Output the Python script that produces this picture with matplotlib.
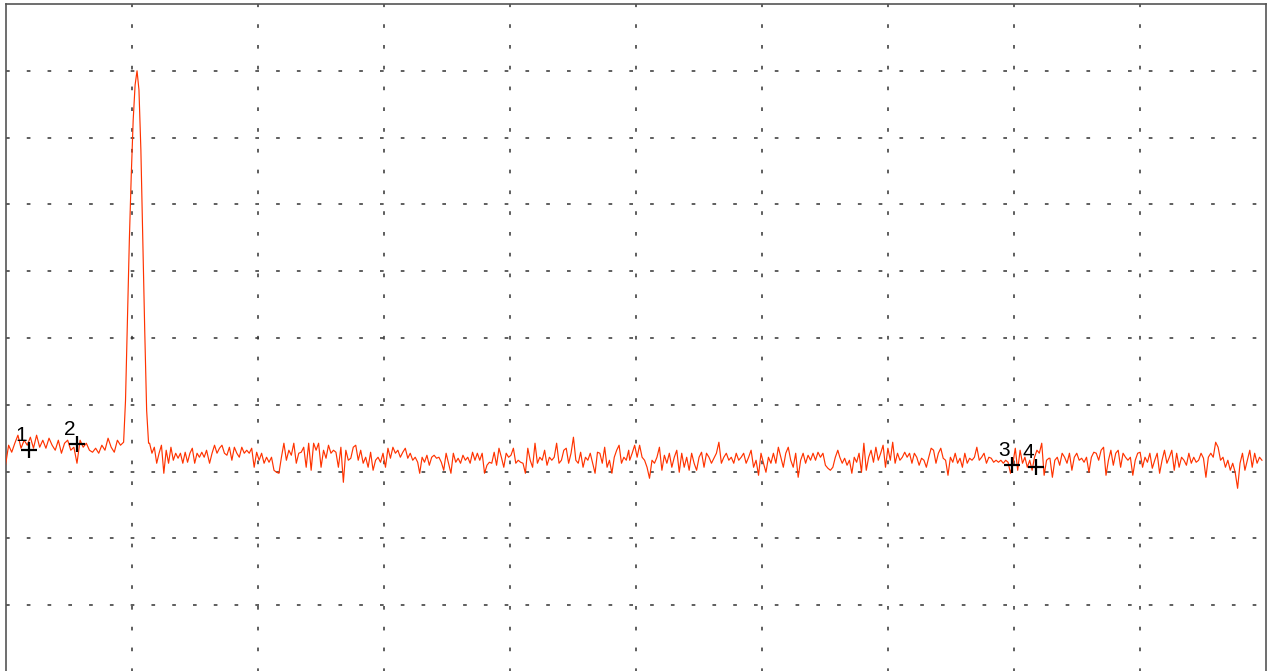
import numpy as np
import matplotlib
matplotlib.use("Agg")
import matplotlib.pyplot as plt

# scope screen: 100 ns/div, 20 mV/div, 10 x 10 divisions
time_div = 100.0
volt_div = 20.0

# trace, in mV, piece by piece (start ns, end ns, samples)
seg_pre = [-38.1, -32.1, -34.2, -31.5, -29.1, -33.0, -30.6, -32.1, -29.7, -33.0,
           -29.1, -32.7, -30.6, -33.0, -30.0, -32.1, -33.6, -30.6, -34.5, -31.5,
           -30.6, -33.6, -32.7, -37.5, -30.6, -32.7, -31.5, -33.6, -34.2, -33.0,
           -34.5, -32.1, -33.6, -30.0, -32.7, -34.2, -30.6, -32.1, -31.2]
seg_pulse = [-18.8, 5.3, 29.3, 48.8, 65.3, 75.8, 80.0, 74.3, 56.3, 29.3, 2.3, -21.7, -31.5]
seg_c = [-31.5, -34.5, -32.7, -37.5, -34.5, -32.1, -40.5, -33.6, -37.5, -32.7,
         -36.6, -34.5, -36.0, -34.5, -37.5, -34.2, -37.2, -34.5, -33.0, -37.5,
         -34.5, -35.7, -34.2, -35.7, -33.6]
seg_d = [-37.5, -34.5, -32.1, -34.5, -33.0, -32.1, -34.5, -35.1, -32.7, -36.6,
         -32.7, -34.5, -35.7, -32.7, -34.5, -33.6, -34.5, -33.0, -38.7, -34.2,
         -36.6, -34.5, -37.5, -35.7, -37.2, -35.7, -39.6, -40.2, -40.5, -35.7,
         -31.5, -36.6, -33.6, -35.1, -31.5, -37.5, -34.5, -34.2, -32.7, -38.7,
         -31.5, -39.6, -31.5, -33.6, -31.5, -38.7, -33.6, -36.0, -32.1, -34.5,
         -33.6, -34.2, -38.7, -32.7, -43.2, -33.6, -36.6, -36.0, -32.7, -32.1,
         -36.6, -33.6, -37.5, -35.7, -38.7, -34.2, -39.6, -36.6, -35.7, -37.2,
         -34.5, -38.7, -33.0, -36.0, -32.7, -34.5, -33.6, -35.7, -34.2, -33.0,
         -36.0, -34.5, -36.6, -35.7, -37.2]
seg_e = [-40.5, -35.7, -37.2, -35.1, -38.1, -35.7, -35.1, -36.0, -35.7, -37.2,
         -39.6, -34.5, -37.5, -40.5, -34.5, -37.2, -36.0, -37.5, -35.1, -36.6,
         -35.7, -37.5, -34.2, -36.6, -34.5, -36.6, -34.5, -40.5, -38.1, -37.2,
         -37.5, -34.2, -38.1, -33.0, -35.7, -38.7, -34.5, -35.7, -35.1, -33.0,
         -37.5, -36.6, -37.2, -37.5, -40.5, -33.0, -36.6, -38.7, -31.5, -37.5,
         -35.7, -36.6, -33.6, -38.1, -35.7, -36.6, -35.7, -31.5, -37.5, -36.6,
         -33.6, -33.0, -37.5, -34.5, -29.7, -36.6, -37.5, -34.2, -38.7, -35.7,
         -36.6, -34.5, -37.5, -40.5, -34.2, -34.5, -37.5, -32.7, -38.7, -36.6,
         -40.5, -35.7, -33.6, -32.1, -37.5, -35.7, -36.6, -33.6]
seg_f = [-36.6, -34.5, -32.1, -35.7, -32.1, -35.7, -36.6, -38.7, -42.0, -36.6,
         -37.5, -35.7, -32.7, -39.6, -35.1, -37.5, -34.5, -38.7, -35.7, -33.6,
         -40.2, -34.5, -38.7, -35.7, -39.6, -34.5, -37.5, -39.6, -35.7, -34.2,
         -38.7, -34.5, -35.7, -37.5, -36.0, -34.5, -31.2, -37.5, -35.7, -34.5,
         -36.6, -35.7, -37.5, -34.5, -36.6, -35.7, -34.5, -37.5, -35.7, -33.6,
         -38.7, -36.6, -41.1, -34.5, -37.5, -40.2, -35.7, -37.5, -34.5, -37.5,
         -32.7, -35.7, -38.7, -34.5, -32.7, -36.6, -38.7, -34.5, -41.7, -36.6,
         -34.5, -37.5, -35.1, -36.6, -34.5, -36.6, -34.2, -35.7, -34.5, -38.1,
         -39.0, -39.6, -38.7, -35.7, -33.6]
seg_g = [-35.7, -37.5, -36.0, -38.1, -36.6, -40.5, -35.7, -37.2, -34.5, -40.2,
         -31.5, -39.6, -35.7, -33.6, -37.2, -32.7, -36.6, -34.5, -32.1, -38.7,
         -33.0, -36.6, -31.2, -37.5, -34.5, -36.6, -35.7, -34.2, -35.7, -34.5,
         -37.5, -34.5, -35.7, -38.1, -36.0, -36.6, -38.7, -35.7, -33.0, -33.6,
         -37.5, -34.5, -33.0, -36.0, -36.6, -41.1, -35.7, -37.2, -34.5, -37.5,
         -36.0, -38.7, -34.5, -37.5, -36.0, -36.6, -35.7, -32.7, -36.6, -35.7,
         -34.5, -37.5, -35.7, -36.0, -37.2, -36.6, -37.2, -36.6, -37.5, -36.6,
         -37.2, -40.5, -37.5, -33.0, -39.6, -33.6, -37.5, -35.7, -38.7, -36.6,
         -39.6, -35.7, -33.6, -34.5, -31.5, -41.1, -36.6, -36.0]
seg_h = [-36.0, -41.7, -36.6, -35.7, -38.1, -34.5, -35.7, -37.5, -34.5, -39.6,
         -35.7, -34.5, -36.6, -36.0, -37.2, -35.7, -40.2, -35.7, -34.2, -34.5,
         -36.6, -33.6, -32.7, -41.1, -36.6, -33.6, -38.1, -34.5, -33.6, -38.7,
         -34.5, -35.7, -36.6, -35.7, -41.1, -36.6, -34.5, -34.2, -38.7, -35.7,
         -37.2, -34.5, -39.0, -36.6, -34.5, -40.5, -36.6, -33.6, -37.5, -35.7,
         -33.6, -39.6, -34.5, -38.7, -35.7, -36.6, -38.1, -34.5, -37.5, -35.7,
         -37.2, -36.6, -34.5, -36.0, -41.7, -35.7, -34.5, -35.7, -31.2, -32.7,
         -36.6, -35.7, -38.7, -36.6, -39.6, -37.5, -40.2, -45.0, -37.5, -34.5,
         -39.6, -36.6, -33.6, -38.7, -34.5, -37.5, -35.7, -36.6]

segments = [seg_pre, seg_pulse, seg_c, seg_d, seg_e, seg_f, seg_g, seg_h]
seg_spans = [(0.0, 93.7), (95.2, 113.5), (114.3, 159.5), (161.9, 327.0),
             (328.6, 494.4), (495.2, 660.3), (661.9, 827.8), (828.6, 996.8)]

# cursors
cursor_labels = ["1", "2", "3", "4"]
cursor_t = [19.0, 57.1, 798.4, 817.5]
cursor_v = [-33.6, -31.8, -38.1, -38.7]

t = np.concatenate([np.linspace(a, b, len(s)) for s, (a, b) in zip(segments, seg_spans)])
v = np.concatenate(segments)

fig = plt.figure(figsize=(12.71, 6.71), dpi=100)
ax = fig.add_axes([5.5 / 1271, -1 / 671, 1260.5 / 1271, 668 / 671])
ax.set_xlim(0, 10 * time_div)
ax.set_ylim(-5 * volt_div, 5 * volt_div)

# dotted graticule
for k in range(1, 10):
    ax.axvline(k * time_div, color="#333333", lw=1.1, ls=(0, (2.4, 11.2)), zorder=1)
    ax.axhline(-5 * volt_div + k * volt_div, color="#333333", lw=1.1, ls=(0, (2.4, 11.2)), zorder=1)

ax.plot(t, v, color="#ff3300", lw=0.85, zorder=3)

for lab, ct, cv in zip(cursor_labels, cursor_t, cursor_v):
    ax.plot(ct, cv, marker="+", ms=12, mew=1.6, color="black", zorder=4)
    ax.annotate(lab, (ct, cv), xytext=(-8, 15), textcoords="offset pixels",
                ha="center", va="center", fontsize=15, family="Liberation Sans", zorder=5)

ax.set_xticks([])
ax.set_yticks([])
for s in ax.spines.values():
    s.set_color("#555555")
    s.set_linewidth(1.2)

fig.savefig("out.png", dpi=100)
